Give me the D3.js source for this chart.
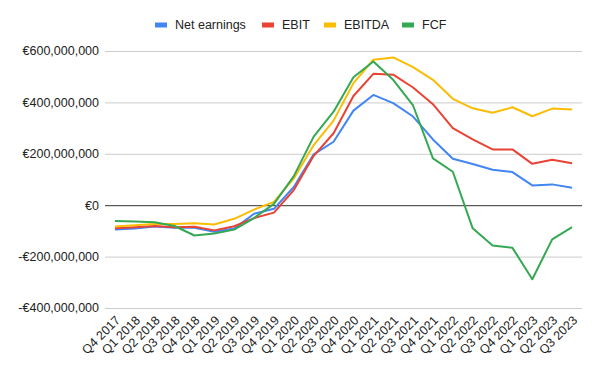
<!DOCTYPE html>
<html lang="en">
<head>
<meta charset="utf-8">
<title>Earnings</title>
<script src="https://cdn.jsdelivr.net/npm/d3@7"></script>
<style>
  body { margin: 0; background: #fff; }
  text { font-family: Arial, "Liberation Sans", sans-serif; }
</style>
</head>
<body>
<script>
// quarters
var quarters = ["Q4 2017","Q1 2018","Q2 2018","Q3 2018","Q4 2018","Q1 2019","Q2 2019","Q3 2019",
  "Q4 2019","Q1 2020","Q2 2020","Q3 2020","Q4 2020","Q1 2021","Q2 2021","Q3 2021","Q4 2021",
  "Q1 2022","Q2 2022","Q3 2022","Q4 2022","Q1 2023","Q2 2023","Q3 2023"];

// values in millions of euro
var netEarnings = [-95,-91,-83,-88,-88,-103,-91,-33,-14,71,198,247,368,429,397,345,256,181,160,138,129,77,81,68];
var ebit = [-90,-86,-81,-86,-84,-98,-82,-50,-29,59,192,280,425,511,508,458,393,300,256,217,217,161,177,163];
var ebitda = [-83,-78,-73,-73,-70,-75,-53,-17,13,104,234,329,475,566,575,537,488,414,377,360,381,346,376,372];
var fcf = [-61,-63,-66,-81,-118,-110,-95,-50,5,113,267,364,498,559,488,388,182,130,-90,-157,-166,-288,-133,-85];

var yTicks = [-400,-200,0,200,400,600];

var seriesNames = ["Net earnings","EBIT","EBITDA","FCF"];
var seriesColors = ["#4285f4","#ea4335","#fbbc04","#34a853"];
var seriesData = [netEarnings, ebit, ebitda, fcf];

var width = 600, height = 371;
var margin = {top: 51, right: 18, bottom: 63, left: 105};

var svg = d3.select("body").append("svg")
    .attr("width", width)
    .attr("height", height);

var x = d3.scaleBand()
    .domain(quarters)
    .range([margin.left, width - margin.right]);

var y = d3.scaleLinear()
    .domain([-400, 600])
    .range([height - margin.bottom, margin.top]);

var fmt = function (v) {
  var s = d3.format(",")(Math.abs(v) * 1e6);
  return (v < 0 ? "-€" : "€") + s;
};

// grid
svg.append("g").selectAll("line")
  .data(yTicks)
  .enter().append("line")
  .attr("x1", margin.left)
  .attr("x2", width - margin.right)
  .attr("y1", function (d) { return y(d) + 0.5; })
  .attr("y2", function (d) { return y(d) + 0.5; })
  .attr("stroke", function (d) { return d === 0 ? "#333" : "#ccc"; })
  .attr("stroke-width", 1);

// y labels
svg.append("g").selectAll("text")
  .data(yTicks)
  .enter().append("text")
  .attr("x", margin.left - 6)
  .attr("y", function (d) { return y(d); })
  .attr("dy", "0.35em")
  .attr("text-anchor", "end")
  .attr("font-size", 12.5)
  .attr("fill", "#222")
  .text(fmt);

// x labels
svg.append("g").selectAll("text")
  .data(quarters)
  .enter().append("text")
  .attr("text-anchor", "end")
  .attr("font-size", 12.5)
  .attr("fill", "#222")
  .attr("transform", function (d) {
    var px = x(d) + x.bandwidth() / 2 + 6;
    return "translate(" + px + "," + (height - margin.bottom + 13) + ") rotate(-45)";
  })
  .text(function (d) { return d; });

// lines
var line = d3.line()
  .x(function (d, i) { return x(quarters[i]) + x.bandwidth() / 2; })
  .y(function (d) { return y(d); });

svg.append("g").selectAll("path")
  .data(seriesData)
  .enter().append("path")
  .attr("d", line)
  .attr("fill", "none")
  .attr("stroke", function (d, i) { return seriesColors[i]; })
  .attr("stroke-width", 2)
  .attr("stroke-linejoin", "round");

// legend
var legendX = [155, 262, 324, 402];
var legend = svg.append("g").selectAll("g")
  .data(seriesNames)
  .enter().append("g")
  .attr("transform", function (d, i) { return "translate(" + legendX[i] + ",25)"; });

legend.append("rect")
  .attr("x", 0).attr("y", -2.5)
  .attr("width", 12).attr("height", 5)
  .attr("fill", function (d, i) { return seriesColors[i]; });

legend.append("text")
  .attr("x", 20)
  .attr("dy", "0.35em")
  .attr("font-size", 12.5)
  .attr("fill", "#222")
  .text(function (d) { return d; });
</script>
</body>
</html>
